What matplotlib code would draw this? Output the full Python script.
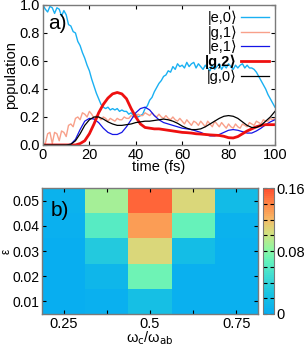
import matplotlib
matplotlib.use("Agg")
import matplotlib.pyplot as plt
import numpy as np
from matplotlib.colors import LinearSegmentedColormap

plt.rcParams["font.family"] = ["Liberation Sans", "DejaVu Sans"]
plt.rcParams["font.size"] = 10.5

# ===== panel a) populations vs time =====
t_fine = np.arange(0, 101, 1)          # 1 fs grid (oscillating curves)
t_coarse = np.arange(0, 101, 2)        # 2 fs grid (smooth curves)

pop_e0 = [1.00, 0.97, 0.95, 0.99, 0.98, 0.94, 0.98, 0.97, 0.92, 0.96,
          0.93, 0.86, 0.85, 0.81, 0.80, 0.74, 0.71, 0.66, 0.62, 0.57,
          0.53, 0.47, 0.42, 0.37, 0.33, 0.29, 0.27, 0.26, 0.27, 0.25,
          0.26, 0.25, 0.26, 0.24, 0.25, 0.24, 0.24, 0.22, 0.23, 0.21,
          0.22, 0.20, 0.21, 0.22, 0.26, 0.28, 0.32, 0.34, 0.38, 0.41,
          0.44, 0.46, 0.49, 0.50, 0.53, 0.52, 0.56, 0.54, 0.58, 0.56,
          0.57, 0.55, 0.59, 0.56, 0.58, 0.59, 0.55, 0.58, 0.56, 0.54,
          0.57, 0.55, 0.53, 0.57, 0.54, 0.56, 0.58, 0.54, 0.57, 0.55,
          0.58, 0.56, 0.54, 0.57, 0.55, 0.57, 0.58, 0.55, 0.57, 0.55,
          0.55, 0.54, 0.52, 0.49, 0.46, 0.43, 0.40, 0.36, 0.33, 0.30,
          0.27]
pop_g1 = [0.00, 0.01, 0.08, 0.09, 0.01, 0.09, 0.08, 0.03, 0.10, 0.09,
          0.06, 0.14, 0.15, 0.13, 0.19, 0.20, 0.18, 0.23, 0.22, 0.20,
          0.24, 0.22, 0.19, 0.21, 0.20, 0.18, 0.20, 0.19, 0.17, 0.19,
          0.18, 0.17, 0.19, 0.18, 0.18, 0.20, 0.19, 0.19, 0.21, 0.20,
          0.20, 0.22, 0.21, 0.21, 0.23, 0.22, 0.21, 0.23, 0.21, 0.20,
          0.22, 0.20, 0.19, 0.21, 0.19, 0.18, 0.20, 0.18, 0.17, 0.19,
          0.17, 0.15, 0.18, 0.16, 0.14, 0.17, 0.16, 0.14, 0.17, 0.15,
          0.13, 0.17, 0.15, 0.13, 0.17, 0.15, 0.13, 0.16, 0.14, 0.12,
          0.15, 0.13, 0.12, 0.15, 0.13, 0.12, 0.15, 0.14, 0.13, 0.16,
          0.15, 0.14, 0.17, 0.16, 0.15, 0.18, 0.17, 0.17, 0.19, 0.18,
          0.19]
pop_e1 = [0, 0, 0, 0, 0, 0, 0.005, 0.04, 0.11, 0.17,
          0.19, 0.185, 0.16, 0.12, 0.09, 0.075, 0.075, 0.09, 0.13, 0.18,
          0.23, 0.26, 0.27, 0.25, 0.21, 0.18, 0.16, 0.15, 0.14, 0.13,
          0.12, 0.115, 0.11, 0.10, 0.09, 0.075, 0.065, 0.065, 0.075, 0.09,
          0.105, 0.11, 0.105, 0.095, 0.085, 0.085, 0.10, 0.12, 0.145, 0.165,
          0.18]
pop_g2 = [0, 0, 0, 0, 0, 0, 0, 0, 0.01, 0.03,
          0.08, 0.15, 0.23, 0.29, 0.335, 0.365, 0.375, 0.365, 0.33, 0.26,
          0.20, 0.15, 0.125, 0.12, 0.115, 0.115, 0.11, 0.105, 0.10, 0.095,
          0.09, 0.088, 0.085, 0.08, 0.078, 0.075, 0.072, 0.07, 0.068, 0.062,
          0.052, 0.05, 0.06, 0.08, 0.10, 0.115, 0.13, 0.14, 0.145, 0.145,
          0.145]
pop_g0 = [0, 0, 0, 0, 0, 0, 0.005, 0.03, 0.08, 0.14,
          0.18, 0.20, 0.20, 0.185, 0.165, 0.15, 0.14, 0.14, 0.145, 0.15,
          0.16, 0.165, 0.17, 0.17, 0.175, 0.18, 0.185, 0.18, 0.17, 0.155,
          0.135, 0.12, 0.11, 0.11, 0.115, 0.13, 0.15, 0.17, 0.19, 0.205,
          0.21, 0.205, 0.19, 0.165, 0.14, 0.125, 0.125, 0.14, 0.17, 0.20,
          0.24]

# ===== panel b) heat map =====
omega_ratio = [0.25, 0.375, 0.5, 0.625, 0.75]
eps_vals = [0.01, 0.02, 0.03, 0.04, 0.05]
heat = [[0.002, 0.004, 0.020, 0.004, 0.003],    # eps = 0.01
        [0.002, 0.012, 0.070, 0.004, 0.003],    # eps = 0.02
        [0.002, 0.030, 0.105, 0.018, 0.004],    # eps = 0.03
        [0.004, 0.062, 0.132, 0.068, 0.006],    # eps = 0.04
        [0.005, 0.088, 0.150, 0.105, 0.016]]    # eps = 0.05
cbar_ticks = [0, 0.08, 0.16]

SPINE = "#7a7a7a"


def edges(c):
    c = np.asarray(c, float)
    mid = 0.5 * (c[1:] + c[:-1])
    return np.concatenate([[c[0] - (mid[0] - c[0])], mid, [c[-1] + (c[-1] - mid[-1])]])


def style_axes(ax):
    for s in ax.spines.values():
        s.set_color(SPINE)
        s.set_linewidth(1.0)
    ax.tick_params(direction="in", length=3, width=0.8, top=True, right=True,
                   labelsize=10.5, pad=2)


fig = plt.figure(figsize=(3.06, 3.46), dpi=100)

# --- a) ---
axA = fig.add_axes([0.1405, 0.581, 0.758, 0.4046])
axA.plot(t_fine, pop_e0, color="#1ab0f2", lw=1.0, label="|e,0⟩")
axA.plot(t_fine, pop_g1, color="#f8a08a", lw=1.0, label="|g,1⟩")
axA.plot(t_coarse, pop_e1, color="#1414e6", lw=0.9, label="|e,1⟩")
axA.plot(t_coarse, pop_g2, color="#ee1010", lw=2.0, label="|g,2⟩")
axA.plot(t_coarse, pop_g0, color="black", lw=0.9, label="|g,0⟩")
axA.set_xlim(0, 100)
axA.set_ylim(0, 1.0)
axA.set_xticks([0, 20, 40, 60, 80, 100])
axA.set_yticks([0, 0.2, 0.4, 0.6, 0.8, 1.0])
axA.set_yticklabels(["0.0", "0.2", "0.4", "0.6", "0.8", "1.0"])
axA.set_xlabel("time (fs)", labelpad=-1)
axA.set_ylabel("population", labelpad=1)
style_axes(axA)
axA.text(0.02, 0.83, "a)", transform=axA.transAxes, fontsize=15)
leg = axA.legend(loc="upper right", frameon=False, markerfirst=False,
                 handlelength=1.9, handletextpad=0.3, labelspacing=0.02,
                 borderaxespad=0.0, fontsize=10.5)
for txt in leg.get_texts():
    txt.set_family(["Liberation Sans", "DejaVu Sans"])
    txt.set_ha("right")
    if "g,2" in txt.get_text():
        txt.set_fontweight("bold")

# --- b) ---
axB = fig.add_axes([0.137, 0.0925, 0.706, 0.364])
cmap = LinearSegmentedColormap.from_list(
    "paper", [(0.0, "#08aef0"), (0.15, "#18c2e2"), (0.3, "#40dcd2"),
              (0.42, "#62f2bc"), (0.52, "#92f6a0"), (0.64, "#d2e080"),
              (0.76, "#f6b866"), (0.88, "#ff8646"), (1.0, "#ff5030")], N=64)
mesh = axB.pcolormesh(edges(omega_ratio), edges(eps_vals), np.array(heat),
                      cmap=cmap, vmin=0, vmax=0.16)
axB.set_xticks(omega_ratio)
axB.set_xticklabels(["0.25", "", "0.5", "", "0.75"])
axB.set_yticks(eps_vals)
axB.set_yticklabels(["0.01", "0.02", "0.03", "0.04", "0.05"])
axB.set_xlabel("ω$_\\mathrm{c}$/ω$_\\mathrm{ab}$", labelpad=-1)
style_axes(axB)
axB.tick_params(axis="y", labelsize=10)
axB.set_ylabel("ε", va="center", fontsize=8.5)
axB.yaxis.set_label_coords(-0.165, 0.5)
axB.text(0.04, 0.78, "b)", transform=axB.transAxes, fontsize=15)

cax = fig.add_axes([0.859, 0.0925, 0.036, 0.364])
cb = fig.colorbar(mesh, cax=cax)
cb.set_ticks(cbar_ticks)
cb.set_ticklabels(["0", "0.08", "0.16"])
cb.ax.set_yticks(np.arange(0, 0.161, 0.02), minor=True)
cb.outline.set_edgecolor(SPINE)
cb.ax.tick_params(which="both", direction="in", left=True, right=True,
                  length=3, width=0.8, labelsize=10.5, pad=2)

fig.savefig("out.png", dpi=100)
